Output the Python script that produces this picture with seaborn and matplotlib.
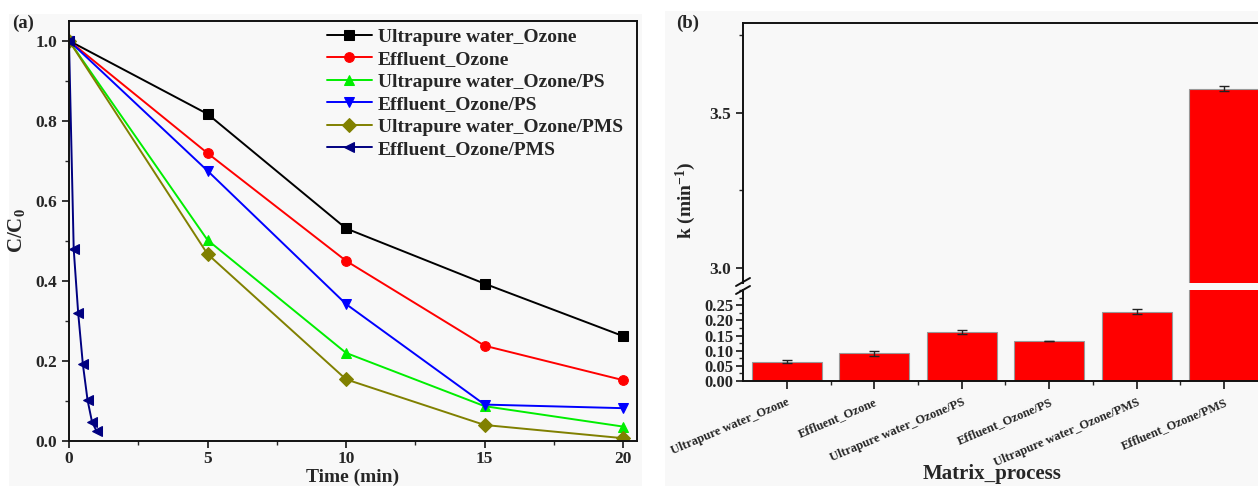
"""
Two-panel figure: (a) C/C0 decay over time, (b) rate constants with a broken y axis.
"""
import numpy as np
import pandas as pd
import matplotlib
matplotlib.use("Agg")
import matplotlib.pyplot as plt
from matplotlib.ticker import MultipleLocator, AutoMinorLocator
from matplotlib.patches import Rectangle
import seaborn as sns

# ---------------------------------------------------------------
# Data
# ---------------------------------------------------------------
series_names = ["Ultrapure water_Ozone", "Effluent_Ozone", "Ultrapure water_Ozone/PS",
                "Effluent_Ozone/PS", "Ultrapure water_Ozone/PMS", "Effluent_Ozone/PMS"]
time_main = [0, 5, 10, 15, 20]
time_fast = [0, 0.17, 0.33, 0.5, 0.67, 0.83, 1.0]

up_ozone = [1.0, 0.817, 0.531, 0.393, 0.262]
eff_ozone = [1.0, 0.719, 0.450, 0.238, 0.152]
up_ozone_ps = [1.0, 0.502, 0.220, 0.087, 0.036]
eff_ozone_ps = [1.0, 0.675, 0.342, 0.091, 0.082]
up_ozone_pms = [1.0, 0.467, 0.154, 0.040, 0.007]
eff_ozone_pms = [1.0, 0.479, 0.321, 0.192, 0.102, 0.048, 0.024]

k_values = [0.064, 0.091, 0.162, 0.132, 0.228, 3.577]
k_errors = [0.004, 0.008, 0.007, 0.001, 0.008, 0.008]

colors = ["#000000", "#ff0000", "#00ee00", "#0000ff", "#808000", "#000080"]
markers = ["s", "o", "^", "v", "D", "<"]

# ---------------------------------------------------------------
# Style
# ---------------------------------------------------------------
sns.set_style("ticks")
plt.rcParams["font.family"] = ["Liberation Serif", "DejaVu Serif"]
plt.rcParams["font.weight"] = "bold"
plt.rcParams["axes.labelweight"] = "bold"
plt.rcParams["mathtext.fontset"] = "custom"
plt.rcParams["mathtext.rm"] = "Liberation Serif:bold"
plt.rcParams["mathtext.it"] = "Liberation Serif:bold"
plt.rcParams["mathtext.bf"] = "Liberation Serif:bold"
plt.rcParams["mathtext.default"] = "rm"

BG = "#f8f8f8"
W, H = 1258, 486
fig = plt.figure(figsize=(W / 100, H / 100), dpi=100)
fig.patch.set_facecolor("white")


def fx(px):
    return px / W


def fy(py):
    return 1 - py / H


# grey panel backgrounds
fig.patches.append(Rectangle((fx(9), 0), fx(642 - 9), fy(14), transform=fig.transFigure,
                             facecolor=BG, edgecolor="none", zorder=-10))
fig.patches.append(Rectangle((fx(665), 0), fx(W - 665), fy(11), transform=fig.transFigure,
                             facecolor=BG, edgecolor="none", zorder=-10))

# ---------------------------------------------------------------
# Panel (a)
# ---------------------------------------------------------------
ax_a = fig.add_axes([fx(69), fy(441), fx(637 - 69), (441 - 20.7) / H])
ax_a.set_facecolor(BG)

all_times = [time_main] * 5 + [time_fast]
all_vals = [up_ozone, eff_ozone, up_ozone_ps, eff_ozone_ps, up_ozone_pms, eff_ozone_pms]
for name, t, v, c, m in zip(series_names, all_times, all_vals, colors, markers):
    sns.lineplot(x=t, y=v, ax=ax_a, color=c, marker=m, markersize=7,
                 markeredgecolor=c, linewidth=1.4, label=name)

ax_a.set_xlim(0, 20.5)
ax_a.set_ylim(0, 1.05)
ax_a.xaxis.set_major_locator(MultipleLocator(5))
ax_a.xaxis.set_minor_locator(AutoMinorLocator(2))
ax_a.yaxis.set_major_locator(MultipleLocator(0.2))
ax_a.yaxis.set_minor_locator(AutoMinorLocator(2))
ax_a.yaxis.set_major_formatter(plt.FormatStrFormatter("%.1f"))
ax_a.tick_params(which="major", direction="out", length=5, width=1.3, labelsize=12.5)
ax_a.tick_params(axis="x", which="major", pad=2)
ax_a.tick_params(which="minor", direction="out", length=3, width=1)
for s in ax_a.spines.values():
    s.set_linewidth(1.4)
    s.set_color("#111111")
ax_a.set_ylabel("C/C$_0$", fontsize=15, labelpad=6)
fig.text(fx(353), fy(486), "Time (min)", fontsize=14, ha="center", va="bottom")
leg = ax_a.legend(loc="upper left", bbox_to_anchor=((327 - 69) / 568, (441 - 28) / 420.3),
                  frameon=False, fontsize=14, handlelength=2.3, handletextpad=0.3,
                  labelspacing=0.25, borderpad=0, borderaxespad=0)
fig.text(fx(12), fy(23), "(a)", fontsize=13.5, va="center", ha="left")

# ---------------------------------------------------------------
# Panel (b): broken y axis
# ---------------------------------------------------------------
df_k = pd.DataFrame({"process": series_names, "k": k_values})
xpos = np.arange(len(series_names))

ax_hi = fig.add_axes([fx(743), fy(283), fx(525), (283 - 23) / H])
ax_lo = fig.add_axes([fx(743), fy(381), fx(525), (381 - 290) / H])

for ax in (ax_hi, ax_lo):
    ax.set_facecolor(BG)
    sns.barplot(data=df_k, x="process", y="k", ax=ax, color="#ff0000", saturation=1,
                width=0.8, edgecolor="#999999", linewidth=0.8, errorbar=None)
    ax.errorbar(xpos, k_values, yerr=k_errors, fmt="none", ecolor="#222222",
                elinewidth=1, capsize=3.5, capthick=1)
    ax.set_xlim(-0.5, 5.5)
    ax.spines["right"].set_visible(False)
    for s in ax.spines.values():
        s.set_linewidth(1.4)
        s.set_color("#111111")
    ax.set_ylabel("")
    ax.set_xlabel("")

ax_hi.set_ylim(2.95, 3.79)
ax_hi.yaxis.set_major_locator(MultipleLocator(0.5))
ax_hi.yaxis.set_minor_locator(AutoMinorLocator(2))
ax_hi.yaxis.set_major_formatter(plt.FormatStrFormatter("%.1f"))
ax_hi.spines["bottom"].set_visible(False)
ax_hi.tick_params(axis="x", which="both", bottom=False, labelbottom=False)
ax_hi.tick_params(axis="y", which="major", direction="out", length=5, width=1.3, labelsize=12.5)
ax_hi.tick_params(axis="y", which="minor", direction="out", length=3, width=1)

ax_lo.set_ylim(0, 0.30)
ax_lo.yaxis.set_major_locator(MultipleLocator(0.05))
ax_lo.yaxis.set_minor_locator(AutoMinorLocator(2))
ax_lo.yaxis.set_major_formatter(plt.FormatStrFormatter("%.2f"))
ax_lo.spines["top"].set_visible(False)
ax_lo.set_yticks([0, 0.05, 0.10, 0.15, 0.20, 0.25])
ax_lo.set_xticks(xpos)
ax_lo.set_xticks(xpos[:-1] + 0.5, minor=True)
ax_lo.set_xticklabels(series_names, rotation=23, ha="right", rotation_mode="anchor",
                      fontsize=9)
ax_lo.tick_params(axis="y", which="major", direction="out", length=5, width=1.3,
                  labelsize=12, pad=2)
ax_lo.tick_params(axis="y", which="minor", direction="out", length=3, width=1)
ax_lo.tick_params(axis="x", which="major", direction="out", length=6, width=1.3, pad=5)
ax_lo.tick_params(axis="x", which="minor", direction="out", length=3, width=1)

# break marks on the left spine
for yc in (282, 290):
    fig.add_artist(plt.Line2D([fx(736), fx(750)], [fy(yc + 4), fy(yc - 4)],
                              transform=fig.transFigure, color="#111111", linewidth=1.4))

fig.text(fx(686), fy(200), "k (min$^{-1}$)", rotation=90, fontsize=14, ha="center", va="center")
fig.text(fx(992), fy(474), "Matrix_process", fontsize=15, ha="center", va="center")
fig.text(fx(676), fy(23), "(b)", fontsize=13.5, va="center", ha="left")

fig.savefig("out.png", dpi=100)
